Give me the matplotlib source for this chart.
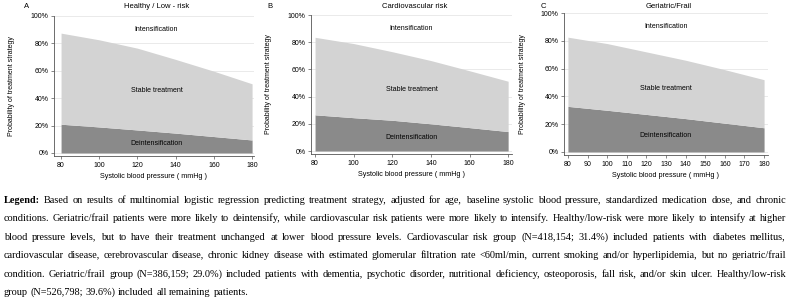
import math
import matplotlib.pyplot as plt
from matplotlib.ticker import PercentFormatter

# systolic blood pressure grid (mmHg)
sbp = [80, 100, 120, 140, 160, 180]

# cumulative probabilities: deintensification, deintensification + stable
healthy_deint = [0.21, 0.19, 0.168, 0.145, 0.12, 0.095]
healthy_stable = [0.875, 0.826, 0.765, 0.683, 0.597, 0.505]
cardio_deint = [0.266, 0.245, 0.226, 0.20, 0.172, 0.143]
cardio_stable = [0.836, 0.79, 0.73, 0.665, 0.59, 0.513]
frail_deint = [0.328, 0.30, 0.27, 0.24, 0.207, 0.174]
frail_stable = [0.826, 0.78, 0.72, 0.66, 0.592, 0.52]

panels = [
    ("A", "Healthy / Low - risk", healthy_deint, healthy_stable, range(80, 181, 20)),
    ("B", "Cardiovascular risk", cardio_deint, cardio_stable, range(80, 181, 20)),
    ("C", "Geriatric/Frail", frail_deint, frail_stable, range(80, 181, 10)),
]

legend_lines = [
    "Legend: Based on results of multinomial logistic regression predicting treatment strategy, adjusted for age, baseline systolic blood pressure, standardized medication dose, and chronic",
    "conditions.  Geriatric/frail patients were more likely to deintensify, while cardiovascular risk patients were more likely to intensify. Healthy/low-risk were more likely to intensify at higher",
    "blood pressure levels, but to have their treatment  unchanged at lower blood pressure levels. Cardiovascular risk group (N=418,154; 31.4%) included patients with  diabetes mellitus,",
    "cardiovascular disease, cerebrovascular disease, chronic kidney disease with estimated glomerular filtration rate <60ml/min, current smoking and/or hyperlipidemia, but no geriatric/frail",
    "condition. Geriatric/frail group (N=386,159; 29.0%) included patients with dementia, psychotic disorder, nutritional deficiency, osteoporosis, fall risk, and/or skin ulcer. Healthy/low-risk",
    "group (N=526,798; 39.6%) included all remaining patients.",
]

W, H = 790, 300
fig = plt.figure(figsize=(7.9, 3.0), dpi=100)
plt.rcParams['font.family'] = ['Liberation Sans', 'DejaVu Sans']

# axes boxes in pixels: left, right, top, bottom, xlim, ylabel x, letter x
boxes = [
    (54, 254, 16, 156, (76.3, 181.0), 12, 27),
    (311, 512, 15, 154, (77.9, 182.0), 269, 270),
    (564, 768, 13, 155, (78.0, 182.0), 522, 543),
]

dark = "#8a8a8a"
light = "#d3d3d3"
axcol = "#555555"

for (letter, title, deint, stable, xt), (l, r, t, b, xl, ylab_x, let_x) in zip(panels, boxes):
    ax = fig.add_axes([l / W, (H - b) / H, (r - l) / W, (b - t) / H])
    ax.set_xlim(*xl)
    ax.set_ylim(-0.022, 1.0)
    ax.set_yticks([0, 0.2, 0.4, 0.6, 0.8, 1.0])
    ax.yaxis.set_major_formatter(PercentFormatter(1.0, decimals=0))
    ax.set_xticks(list(xt))
    ax.grid(axis='y', color="#e6e6e6", lw=0.6, zorder=0)
    ax.fill_between(sbp, 0, deint, color=dark, lw=0, zorder=2)
    ax.fill_between(sbp, deint, stable, color=light, lw=0, zorder=2)
    for s in ['top', 'right']:
        ax.spines[s].set_visible(False)
    for s in ['left', 'bottom']:
        ax.spines[s].set_color(axcol)
        ax.spines[s].set_linewidth(0.6)
    ax.tick_params(labelsize=5, length=2.5, width=0.5, color=axcol, pad=1.5)
    ax.set_xlabel("Systolic blood pressure ( mmHg )", fontsize=5.2, labelpad=3)
    ax.text(130, 0.90, "Intensification", fontsize=5, ha='center', va='center', zorder=3)
    ax.text(130, 0.455, "Stable treatment", fontsize=5, ha='center', va='center', zorder=3)
    dy = {"A": 0.07, "B": 0.10, "C": 0.115}[letter]
    ax.text(130, dy, "Deintensification", fontsize=5, ha='center', va='center', zorder=3)
    fig.text(ylab_x / W, 1 - ((t + b) / 2) / H, "Probability of treatment strategy",
             rotation=90, fontsize=5, ha='center', va='center')
    fig.text(((l + r) / 2 + 3) / W, 1 - 6 / H, title, fontsize=5.5, ha='center', va='center')
    fig.text(let_x / W, 1 - 6 / H, letter, fontsize=5.5, ha='center', va='center')

# justified caption below the panels, one text per word
renderer = fig.canvas.get_renderer()
x0, x1 = 4, 786
line_y = [203, 221, 240, 258, 277, 295]
fsize = 7.4
for i, (line, yb) in enumerate(zip(legend_lines, line_y)):
    words = line.split()
    objs = []
    for j, w in enumerate(words):
        bold = (i == 0 and j == 0)
        objs.append(fig.text(0, 1 - yb / H, w, fontsize=fsize, family='Liberation Serif',
                             fontweight='bold' if bold else 'normal', va='baseline', ha='left'))
    widths = []
    for o in objs:
        wd, _, d = renderer.get_text_width_height_descent(o.get_text(), o.get_fontproperties(), ismath=False)
        widths.append(o.get_window_extent(renderer).width)
        # agg rounds the glyph descent; keep words with a fractional descent on the baseline
        shift = round(d) - math.floor(d)
        o.set_y((H - yb + shift) / H)
    space = fsize * 0.25 * 100 / 72
    if i < len(legend_lines) - 1:
        gap = max((x1 - x0 - sum(widths)) / (len(words) - 1), 1.0)
    else:
        gap = space
    x = x0
    for o, wd in zip(objs, widths):
        o.set_x(x / W)
        x += wd + gap

fig.savefig("out.png", dpi=100)
